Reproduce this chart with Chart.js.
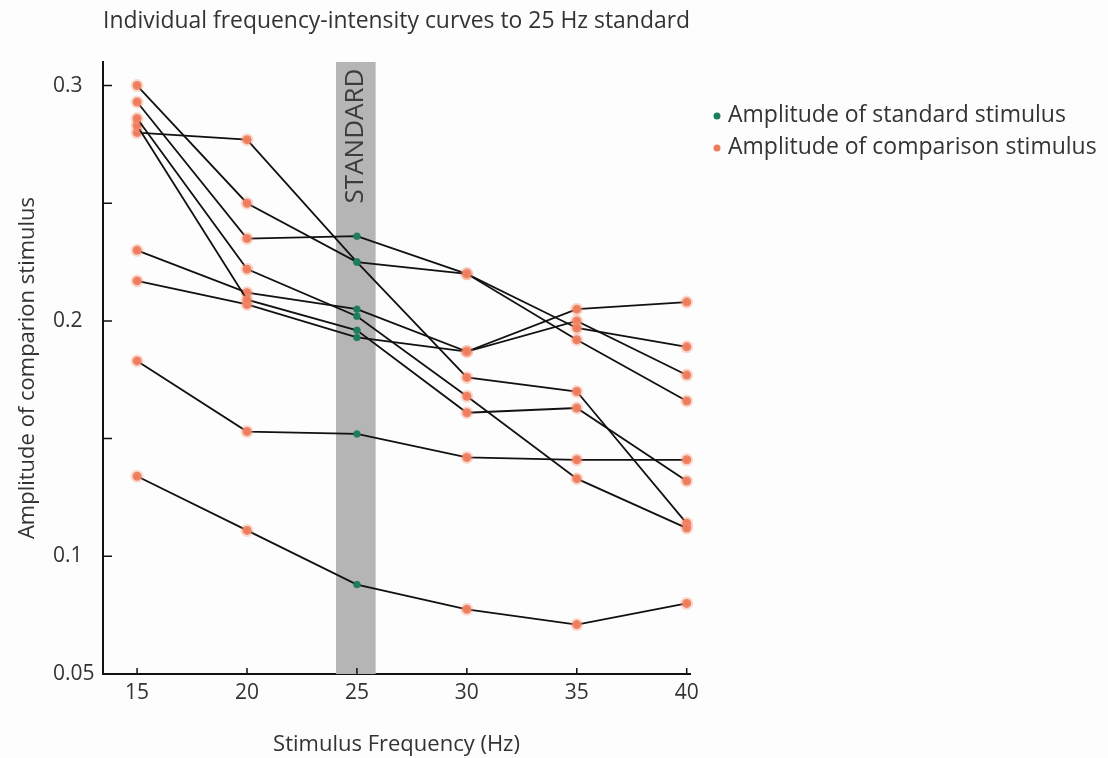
<!DOCTYPE html>
<html>
<head>
<meta charset="utf-8">
<script src="https://cdn.jsdelivr.net/npm/chart.js@4/dist/chart.umd.min.js"></script>
<style>
  html, body { margin: 0; padding: 0; background: #fdfdfd; }
  #wrap { width: 1108px; height: 758px; }
</style>
</head>
<body>
<div id="wrap"><canvas id="freqChart" width="1108" height="758"></canvas></div>
<script>
// === data ===
const freqs = [15, 20, 25, 30, 35, 40];
const xTickValues = [15, 20, 25, 30, 35, 40];
const yTickLabels = [0.05, 0.1, 0.2, 0.3];
const standardBand = [24.05, 25.85];

const subject1 = [0.300, 0.250, 0.225, 0.220, 0.197, 0.189];
const subject2 = [0.293, 0.235, 0.236, 0.220, 0.192, 0.166];
const subject3 = [0.286, 0.222, 0.202, 0.168, 0.133, 0.112];
const subject4 = [0.283, 0.209, 0.196, 0.161, 0.163, 0.132];
const subject5 = [0.280, 0.277, 0.225, 0.176, 0.170, 0.114];
const subject6 = [0.230, 0.212, 0.205, 0.187, 0.205, 0.208];
const subject7 = [0.217, 0.207, 0.193, 0.187, 0.200, 0.177];
const subject8 = [0.183, 0.153, 0.152, 0.142, 0.141, 0.141];
const subject9 = [0.134, 0.111, 0.088, 0.0775, 0.071, 0.080];
const subjects = [subject1, subject2, subject3, subject4, subject5, subject6, subject7, subject8, subject9];

const STANDARD_HZ = 25;
const GREEN = "#1f7d5e";
const ORANGE = "#ee7b5b";
const ORANGE_GLOW = "rgba(243, 150, 120, 0.35)";
const TEXT = "#333333";
const FONT = "'Open Sans', 'Noto Sans', sans-serif";

const datasets = subjects.map((vals, n) => ({
  label: "subject " + (n + 1),
  data: freqs.map((f, i) => ({ x: f, y: vals[i] })),
  borderColor: "#111111",
  borderWidth: 1.8,
  tension: 0,
  fill: false,
  pointRadius: freqs.map(f => f === STANDARD_HZ ? 3.5 : 4.5),
  pointBorderWidth: freqs.map(f => f === STANDARD_HZ ? 1 : 4),
  pointBackgroundColor: freqs.map(f => f === STANDARD_HZ ? GREEN : ORANGE),
  pointBorderColor: freqs.map(f => f === STANDARD_HZ ? "rgba(31,125,94,0.4)" : ORANGE_GLOW),
  clip: false
}));

// gray "STANDARD" band behind the lines
const standardBandPlugin = {
  id: "standardBand",
  beforeDatasetsDraw(chart) {
    const { ctx, chartArea, scales } = chart;
    const x1 = scales.x.getPixelForValue(standardBand[0]);
    const x2 = scales.x.getPixelForValue(standardBand[1]);
    ctx.save();
    ctx.fillStyle = "#b5b5b5";
    ctx.fillRect(x1, chartArea.top, x2 - x1, chartArea.bottom - chartArea.top);
    ctx.translate((x1 + x2) / 2, chartArea.top + 74);
    ctx.rotate(-Math.PI / 2);
    ctx.fillStyle = "#3c3c3c";
    ctx.font = "26px " + FONT;
    ctx.textAlign = "center";
    ctx.textBaseline = "middle";
    ctx.fillText("STANDARD", 0, 0);
    ctx.restore();
  }
};

// tick marks pointing into the plot
const innerTicksPlugin = {
  id: "innerTicks",
  afterDraw(chart) {
    const { ctx, chartArea, scales } = chart;
    ctx.save();
    ctx.strokeStyle = "#111111";
    ctx.lineWidth = 1.5;
    ctx.beginPath();
    scales.y.ticks.forEach(t => {
      const y = scales.y.getPixelForValue(t.value);
      ctx.moveTo(chartArea.left, y);
      ctx.lineTo(chartArea.left + 9, y);
    });
    scales.x.ticks.forEach(t => {
      const x = scales.x.getPixelForValue(t.value);
      ctx.moveTo(x, chartArea.bottom);
      ctx.lineTo(x, chartArea.bottom - 6);
    });
    ctx.stroke();
    ctx.restore();
  }
};

// legend at the right
const sideLegendPlugin = {
  id: "sideLegend",
  afterDraw(chart) {
    const { ctx } = chart;
    const items = [
      { text: "Amplitude of standard stimulus", color: GREEN, y: 115 },
      { text: "Amplitude of comparison stimulus", color: ORANGE, y: 147 }
    ];
    ctx.save();
    ctx.font = "23px " + FONT;
    ctx.textBaseline = "middle";
    ctx.textAlign = "left";
    items.forEach(it => {
      ctx.beginPath();
      ctx.fillStyle = it.color;
      ctx.arc(717, it.y + 1, 3.5, 0, Math.PI * 2);
      ctx.fill();
      ctx.fillStyle = TEXT;
      ctx.fillText(it.text, 728, it.y);
    });
    ctx.restore();
  }
};

new Chart(document.getElementById("freqChart"), {
  type: "line",
  data: { datasets },
  plugins: [standardBandPlugin, innerTicksPlugin, sideLegendPlugin],
  options: {
    responsive: false,
    animation: false,
    devicePixelRatio: 1,
    layout: { padding: { left: 53, right: 418, top: 0, bottom: 0 } },
    plugins: {
      legend: { display: false },
      tooltip: { enabled: false },
      title: {
        display: true,
        fullSize: false,
        text: "Individual frequency-intensity curves to 25 Hz standard",
        color: TEXT,
        font: { family: FONT, size: 23, weight: "normal" },
        padding: { top: 8, bottom: 26.4 }
      }
    },
    scales: {
      x: {
        type: "linear",
        min: 13.45,
        max: 40.15,
        afterFit: s => { s.height = 84; },
        grid: { display: false, drawTicks: false },
        border: { display: true, color: "#111111", width: 2 },
        ticks: {
          stepSize: 5,
          includeBounds: false,
          padding: 6,
          color: TEXT,
          font: { family: FONT, size: 21 },
          callback: v => xTickValues.includes(v) ? String(v) : ""
        },
        title: {
          display: true,
          text: "Stimulus Frequency (Hz)",
          color: TEXT,
          font: { family: FONT, size: 22 },
          padding: { top: 0, bottom: 0 }
        }
      },
      y: {
        type: "linear",
        min: 0.05,
        max: 0.31,
        afterFit: s => { s.width = 50; },
        grid: { display: false, drawTicks: false },
        border: { display: true, color: "#111111", width: 2 },
        ticks: {
          stepSize: 0.05,
          includeBounds: false,
          crossAlign: "far",
          padding: 6,
          color: TEXT,
          font: { family: FONT, size: 21 },
          callback: v => {
            const r = Math.round(v * 100) / 100;
            return yTickLabels.includes(r) ? String(r) : "";
          }
        },
        title: {
          display: true,
          text: "Amplitude of comparion stimulus",
          color: TEXT,
          font: { family: FONT, size: 22 },
          padding: { top: -38, bottom: 0 }
        }
      }
    }
  }
});
</script>
</body>
</html>
